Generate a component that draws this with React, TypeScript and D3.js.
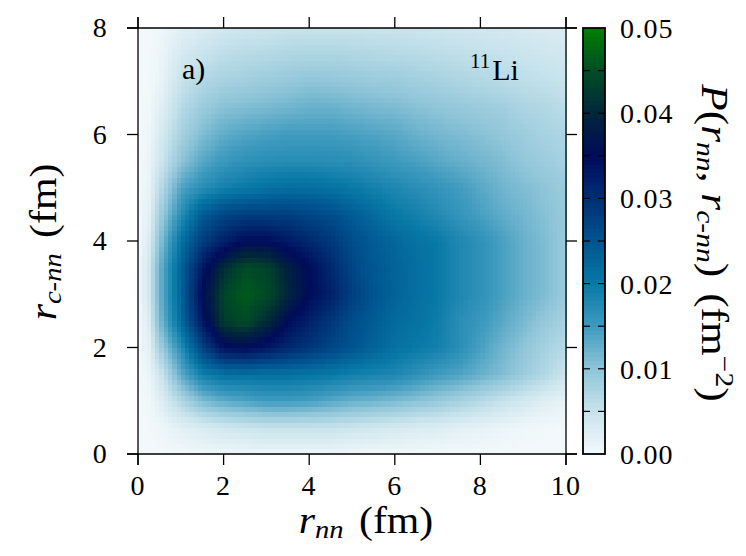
import React from 'react'
import * as d3 from 'd3'

// grid, P(r_nn, r_c-nn) in fm^-2
const rnn = [0, 0.25, 0.5, 1, 1.5, 2, 2.5, 3, 3.5, 4, 4.5, 5, 5.5, 6, 6.5, 7, 7.5, 8, 8.5, 9, 9.5, 10]
const rcnn = [0, 0.5, 1, 1.5, 2, 2.5, 3, 3.5, 4, 4.5, 5, 5.5, 6, 6.5, 7, 7.5, 8]
const density = [
    [0, 0, 0, 0.0003, 0.0005, 0.0007, 0.0008, 0.0008, 0.0008, 0.0008, 0.0007, 0.0006, 0.0005, 0.0004, 0.0003, 0.0002, 0.0001, 0.0001, 0, 0, 0, 0],
    [0, 0.0001, 0.0005, 0.002, 0.003, 0.004, 0.0045, 0.005, 0.005, 0.005, 0.005, 0.0045, 0.004, 0.0035, 0.003, 0.0027, 0.002, 0.0015, 0.001, 0.0005, 0.0003, 0.0001],
    [0, 0.0005, 0.002, 0.007, 0.011, 0.013, 0.014, 0.015, 0.015, 0.0145, 0.0135, 0.0125, 0.012, 0.0112, 0.0103, 0.0093, 0.008, 0.0066, 0.0052, 0.0038, 0.0024, 0.0014],
    [0, 0.001, 0.004, 0.013, 0.019, 0.021, 0.021, 0.021, 0.021, 0.0205, 0.020, 0.019, 0.0185, 0.018, 0.0165, 0.015, 0.014, 0.0125, 0.011, 0.009, 0.007, 0.0045],
    [0, 0.002, 0.008, 0.017, 0.027, 0.034, 0.035, 0.033, 0.031, 0.029, 0.027, 0.025, 0.023, 0.021, 0.020, 0.019, 0.017, 0.0145, 0.012, 0.010, 0.008, 0.0065],
    [0, 0.003, 0.011, 0.022, 0.033, 0.043, 0.045, 0.041, 0.035, 0.032, 0.029, 0.026, 0.024, 0.022, 0.021, 0.0195, 0.017, 0.0155, 0.0135, 0.0115, 0.0095, 0.0078],
    [0, 0.004, 0.012, 0.023, 0.035, 0.044, 0.0465, 0.045, 0.040, 0.035, 0.032, 0.028, 0.025, 0.023, 0.0215, 0.020, 0.018, 0.0165, 0.0145, 0.0125, 0.011, 0.009],
    [0, 0.004, 0.012, 0.023, 0.033, 0.041, 0.045, 0.044, 0.039, 0.035, 0.031, 0.027, 0.0245, 0.023, 0.0215, 0.020, 0.018, 0.0165, 0.0145, 0.0125, 0.011, 0.009],
    [0, 0.003, 0.010, 0.021, 0.028, 0.032, 0.035, 0.035, 0.033, 0.031, 0.029, 0.026, 0.024, 0.0225, 0.021, 0.020, 0.018, 0.0165, 0.0145, 0.0125, 0.011, 0.009],
    [0, 0.002, 0.008, 0.017, 0.024, 0.027, 0.028, 0.028, 0.028, 0.027, 0.026, 0.024, 0.022, 0.020, 0.019, 0.0175, 0.016, 0.0145, 0.013, 0.0118, 0.0105, 0.0092],
    [0, 0.0015, 0.006, 0.014, 0.017, 0.019, 0.020, 0.021, 0.0215, 0.0215, 0.021, 0.020, 0.019, 0.018, 0.017, 0.016, 0.015, 0.0135, 0.012, 0.011, 0.010, 0.009],
    [0, 0.001, 0.004, 0.010, 0.0135, 0.0155, 0.0165, 0.017, 0.0172, 0.0172, 0.017, 0.0168, 0.016, 0.0152, 0.0145, 0.0135, 0.0127, 0.0118, 0.011, 0.0097, 0.0088, 0.008],
    [0, 0.0007, 0.003, 0.008, 0.011, 0.013, 0.014, 0.0145, 0.015, 0.015, 0.015, 0.0145, 0.014, 0.0135, 0.0125, 0.0117, 0.0111, 0.0105, 0.0097, 0.0088, 0.0079, 0.0073],
    [0, 0.0004, 0.002, 0.0065, 0.009, 0.0105, 0.011, 0.0115, 0.012, 0.0125, 0.0125, 0.012, 0.0115, 0.0112, 0.0105, 0.010, 0.0095, 0.009, 0.0085, 0.0075, 0.007, 0.0062],
    [0, 0.0002, 0.001, 0.005, 0.007, 0.008, 0.0085, 0.009, 0.0095, 0.010, 0.0098, 0.0095, 0.0092, 0.009, 0.0085, 0.008, 0.0075, 0.007, 0.0065, 0.006, 0.0055, 0.005],
    [0, 0.0001, 0.0008, 0.0035, 0.005, 0.006, 0.0065, 0.0068, 0.0072, 0.0075, 0.0075, 0.0072, 0.007, 0.0068, 0.0065, 0.0062, 0.0058, 0.0055, 0.0052, 0.0048, 0.0044, 0.004],
    [0, 0, 0.0005, 0.002, 0.003, 0.004, 0.0045, 0.0045, 0.005, 0.005, 0.005, 0.005, 0.0049, 0.0048, 0.0047, 0.0045, 0.0043, 0.004, 0.0038, 0.0035, 0.0032, 0.003],
]

const xTicks = [0, 2, 4, 6, 8, 10]
const yTicks = [0, 2, 4, 6, 8]
const cbLabels = [0, 0.01, 0.02, 0.03, 0.04, 0.05]
const cbDashes = [0.005, 0.01, 0.015, 0.02, 0.025, 0.03, 0.035, 0.04, 0.045]

const colorStops = [0, 0.005, 0.01, 0.015, 0.02, 0.025, 0.03, 0.035, 0.04, 0.045, 0.05]
const colorValues = ['#f3f9fb', '#c8e3ec', '#8fc5d8', '#3f9bbf', '#0879a7', '#00548f', '#002f74', '#000b5a', '#00263a', '#004c26', '#007e00']

const FONT = '"Liberation Serif", "DejaVu Serif", serif'
const CELL = 0.1

const left = 138, right = 566, top = 28, bottom = 454
const tick = 11

// bilinear lookup on the read grid (pm3d-like smoothing)
const lookup = (x: number, y: number) => {
    const i = Math.max(0, Math.min(rnn.length - 2, d3.bisectRight(rnn, x) - 1))
    const j = Math.max(0, Math.min(rcnn.length - 2, d3.bisectRight(rcnn, y) - 1))
    const tx = (x - rnn[i]) / (rnn[i + 1] - rnn[i])
    const ty = (y - rcnn[j]) / (rcnn[j + 1] - rcnn[j])
    const a = density[j][i], b = density[j][i + 1]
    const c = density[j + 1][i], d = density[j + 1][i + 1]
    return (a * (1 - tx) + b * tx) * (1 - ty) + (c * (1 - tx) + d * tx) * ty
}

const App = () => {
    const x = d3.scaleLinear().domain([0, 10]).range([left, right])
    const y = d3.scaleLinear().domain([0, 8]).range([bottom, top])
    const color = d3.scaleLinear<string>().domain(colorStops).range(colorValues)
        .interpolate(d3.interpolateRgb).clamp(true)
    const cb = d3.scaleLinear().domain([0, 0.05]).range([bottom, top])

    const cells: { cx: number, cy: number, v: number }[] = []
    d3.range(0, 10 - 1e-9, CELL).forEach((cx) => {
        d3.range(0, 8 - 1e-9, CELL).forEach((cy) => {
            cells.push({ cx, cy, v: lookup(cx + CELL / 2, cy + CELL / 2) })
        })
    })
    const cbSteps = d3.range(0, 0.05, 0.0005)

    const cbX = 583, cbW = 22

    return (
        <svg width={746} height={556} style={{ position: 'absolute', left: 0, top: 0, background: '#fff' }}
            fontFamily={FONT}>
            <g shapeRendering='crispEdges'>
                {cells.map((c, i) => (
                    <rect key={i} x={x(c.cx)} y={y(c.cy + CELL)}
                        width={x(CELL) - x(0) + 0.6} height={y(0) - y(CELL) + 0.6}
                        fill={color(c.v)} />
                ))}
            </g>

            {/* frame with outward ticks */}
            <g stroke='#000' strokeWidth={1.3}>
                <line x1={left - tick} x2={right + tick} y1={bottom} y2={bottom} />
                <line x1={left - tick} x2={right + tick} y1={top} y2={top} />
                <line x1={left} x2={left} y1={top - tick} y2={bottom + tick} />
                <line x1={right} x2={right} y1={top - tick} y2={bottom + tick} />
                {xTicks.map((t) => (
                    <g key={t}>
                        <line x1={x(t)} x2={x(t)} y1={bottom} y2={bottom + tick} />
                        <line x1={x(t)} x2={x(t)} y1={top} y2={top - tick} />
                    </g>
                ))}
                {yTicks.map((t) => (
                    <g key={t}>
                        <line x1={left - tick} x2={left} y1={y(t)} y2={y(t)} />
                        <line x1={right} x2={right + tick} y1={y(t)} y2={y(t)} />
                    </g>
                ))}
            </g>
            <g fontSize={28} fill='#000' letterSpacing={1.2}>
                {xTicks.map((t) => (
                    <text key={t} x={x(t)} y={bottom + 41} textAnchor='middle'>{t}</text>
                ))}
                {yTicks.map((t) => (
                    <text key={t} x={left - 30} y={y(t) + 9} textAnchor='end'>{t}</text>
                ))}
            </g>

            {/* colour box */}
            <g shapeRendering='crispEdges'>
                {cbSteps.map((v) => (
                    <rect key={v} x={cbX} y={cb(v + 0.0005)} width={cbW} height={cb(0) - cb(0.0005) + 0.6}
                        fill={color(v + 0.00025)} />
                ))}
            </g>
            <g stroke='#000' strokeWidth={1.2}>
                {cbDashes.map((v) => (
                    <g key={v}>
                        <line x1={cbX} x2={cbX + 7} y1={cb(v)} y2={cb(v)} />
                        <line x1={cbX + cbW - 7} x2={cbX + cbW} y1={cb(v)} y2={cb(v)} />
                    </g>
                ))}
            </g>
            <rect x={cbX} y={top} width={cbW} height={bottom - top} fill='none' stroke='#000' strokeWidth={1.8} />
            <g fontSize={28} letterSpacing={1.2}>
                {cbLabels.map((v) => (
                    <text key={v} x={620} y={cb(v) + 10}>{v.toFixed(2)}</text>
                ))}
            </g>

            {/* labels, stretched a little to mimic the wider TeX glyphs */}
            <text transform='translate(366,533) scale(1.1,1)' fontSize={38} textAnchor='middle'>
                <tspan fontStyle='italic'>r</tspan>
                <tspan fontStyle='italic' fontSize={26} dy={5}>nn</tspan>
                <tspan dy={-5} dx={14}>(fm)</tspan>
            </text>
            <text transform='translate(56,242) rotate(-90) scale(1.1,1)' fontSize={38} textAnchor='middle'>
                <tspan fontStyle='italic'>r</tspan>
                <tspan fontSize={26} dy={5}><tspan fontStyle='italic'>c</tspan>-<tspan fontStyle='italic'>nn</tspan></tspan>
                <tspan dy={-5} dx={14}>(fm)</tspan>
            </text>
            <text transform='translate(702,243) rotate(90) scale(1.14,1)' fontSize={38} textAnchor='middle'>
                <tspan fontStyle='italic'>P</tspan>(<tspan fontStyle='italic'>r</tspan>
                <tspan fontStyle='italic' fontSize={26} dy={5}>nn</tspan>
                <tspan dy={-5}>, </tspan><tspan fontStyle='italic'>r</tspan>
                <tspan fontSize={26} dy={5}><tspan fontStyle='italic'>c</tspan>-<tspan fontStyle='italic'>nn</tspan></tspan>
                <tspan dy={-5}>)</tspan>
                <tspan dx={14}>(fm</tspan>
                <tspan fontSize={26} dy={-14}>−2</tspan>
                <tspan dy={14}>)</tspan>
            </text>

            <text x={182} y={79} fontSize={30}>a)</text>
            <text x={470} y={80} fontSize={30}>
                <tspan fontSize={21} dy={-12}>11</tspan>
                <tspan dy={12} dx={2}>Li</tspan>
            </text>
        </svg>
    )
}

export default App
